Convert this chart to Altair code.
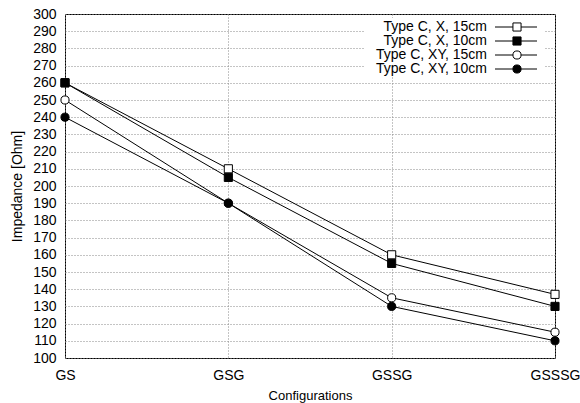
import altair as alt
import pandas as pd

# Configurations along the x axis
configs = ["GS", "GSG", "GSSG", "GSSSG"]

# Impedance in Ohm for each cable type / configuration
series = ["Type C, X, 15cm", "Type C, X, 10cm", "Type C, XY, 15cm", "Type C, XY, 10cm"]
x_15cm = [260, 210, 160, 137]
x_10cm = [260, 205, 155, 130]
xy_15cm = [250, 190, 135, 115]
xy_10cm = [240, 190, 130, 110]

y_ticks = list(range(100, 301, 10))

rows = []
for name, vals in zip(series, [x_15cm, x_10cm, xy_15cm, xy_10cm]):
    for c, v in zip(configs, vals):
        rows.append({"series": name, "config": c, "value": v})
df = pd.DataFrame(rows)
legend_df = pd.DataFrame({"series": series})

FONT = "Liberation Sans"

shape_scale = alt.Scale(domain=series, range=["square", "square", "circle", "circle"])
fill_scale = alt.Scale(domain=series, range=["white", "black", "white", "black"])

x_enc = alt.X(
    "config:N",
    scale=alt.Scale(type="point", domain=configs, padding=0),
    sort=configs,
    axis=alt.Axis(
        title="Configurations", labelAngle=0, ticks=False, domain=False,
        grid=True, gridColor="#888", gridDash=[1, 2], gridWidth=1,
        labelPadding=10, labelFontSize=14, titleFontSize=13,
        labelFont=FONT, titleFont=FONT, titleFontWeight="normal",
        labelColor="black", titleColor="black",
        titleY=41, titleBaseline="alphabetic",
    ),
)
y_enc = alt.Y(
    "value:Q",
    scale=alt.Scale(domain=[100, 300], nice=False, zero=False),
    axis=alt.Axis(
        title="Impedance [Ohm]", values=y_ticks, ticks=False, domain=False,
        grid=True, gridColor="#888", gridDash=[1, 2], gridWidth=1,
        labelPadding=9, labelFontSize=14, titleFontSize=14,
        labelFont=FONT, titleFont=FONT, titleFontWeight="normal",
        labelColor="black", titleColor="black",
        titleX=-48, titleY=172, titleAngle=-90, titleAlign="center",
        titleBaseline="middle",
    ),
)

lines = alt.Chart(df).mark_line(color="black", strokeWidth=1).encode(
    x=x_enc, y=y_enc, detail="series:N"
)
points = alt.Chart(df).mark_point(filled=False, stroke="black", strokeWidth=1, size=66, opacity=1).encode(
    x=x_enc,
    y=y_enc,
    shape=alt.Shape("series:N", scale=shape_scale, legend=None),
    fill=alt.Fill("series:N", scale=fill_scale, legend=None),
)
plot = alt.layer(lines, points)

# Key box in the upper right corner
key_bg = alt.Chart(legend_df).mark_rect(color="white").encode(
    x=alt.value(300), x2=alt.value(480), y=alt.value(4), y2=alt.value(61)
)
key_y = alt.Y("series:N", scale=alt.Scale(type="point", domain=series, range=[13, 55], padding=0), axis=None)
key_text = alt.Chart(legend_df).mark_text(
    align="right", baseline="middle", font=FONT, fontSize=14, color="black"
).encode(x=alt.value(422), y=key_y, text="series:N")
key_line = alt.Chart(legend_df).mark_rule(color="black", strokeWidth=1).encode(
    x=alt.value(430), x2=alt.value(472), y=key_y
)
key_point = alt.Chart(legend_df).mark_point(filled=False, stroke="black", strokeWidth=1, size=66, opacity=1).encode(
    x=alt.value(452),
    y=key_y,
    shape=alt.Shape("series:N", scale=shape_scale, legend=None),
    fill=alt.Fill("series:N", scale=fill_scale, legend=None),
)
key = alt.layer(key_bg, key_line, key_point, key_text)

chart = (
    alt.layer(plot, key)
    .resolve_scale(y="independent")
    .properties(
        width=490,
        height=344,
        autosize=alt.AutoSizeParams(type="none"),
        padding={"left": 65, "top": 14, "right": 25, "bottom": 45},
        background="white",
    )
    .configure_view(stroke="black", strokeWidth=1)
)

chart.save("out.html", embed_options={"renderer": "svg", "actions": False})
